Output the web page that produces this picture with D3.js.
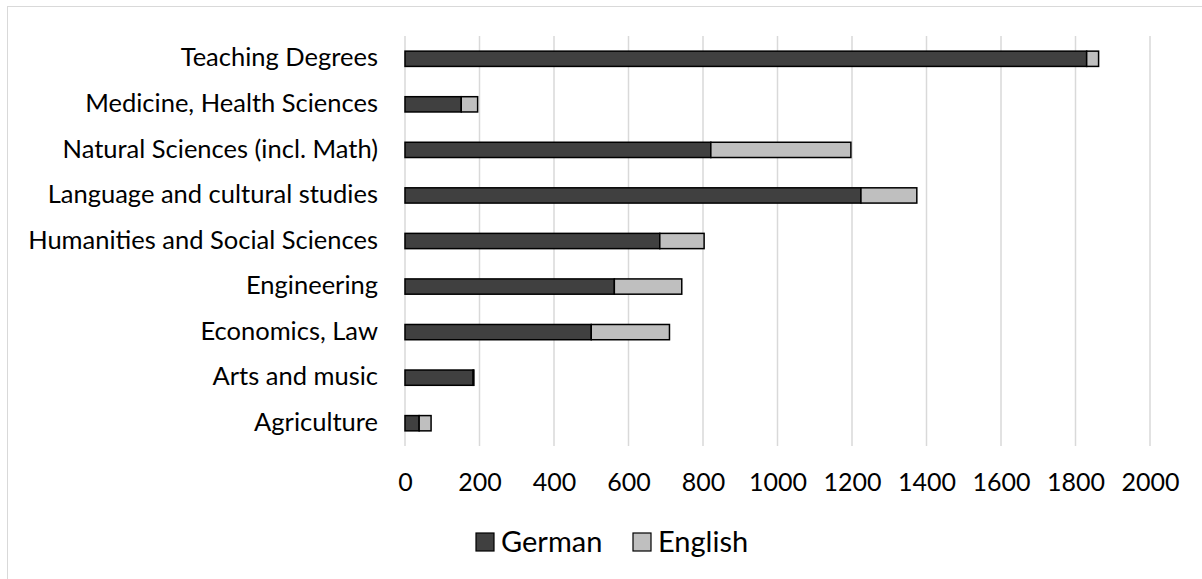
<!DOCTYPE html>
<html lang="en">
<head>
    <meta charset="UTF-8">
    <title>Degrees by language</title>
    <style>
        html, body { margin: 0; height: 100%; background: #fff; }
        svg text { font-family: Lato, "Open Sans", sans-serif; fill: #000; }
    </style>
</head>
<body>
    <div class="chart"></div>
    <script src="https://d3js.org/d3.v7.min.js"></script>
    <script>
        var categories = ["Teaching Degrees", "Medicine, Health Sciences", "Natural Sciences (incl. Math)",
            "Language and cultural studies", "Humanities and Social Sciences", "Engineering",
            "Economics, Law", "Arts and music", "Agriculture"];
        var german = [1830, 151, 821, 1224, 684, 562, 500, 183, 38];
        var english = [32, 44, 376, 150, 119, 181, 210, 2, 32];
        var seriesNames = ["German", "English"];
        var seriesColors = ["#404040", "#bfbfbf"];
        var xTicks = [0, 200, 400, 600, 800, 1000, 1200, 1400, 1600, 1800, 2000];

        var W = 1202, H = 579;
        var margin = { top: 36, left: 405, right: 52, bottom: 133 };
        var width = W - margin.left - margin.right,
            height = H - margin.top - margin.bottom;

        var svg = d3.select('.chart').append('svg')
            .attr('width', W).attr('height', H);

        // outer chart border
        svg.append('rect')
            .attr('x', 7.5).attr('y', 6.5)
            .attr('width', W).attr('height', H)
            .attr('fill', 'none').attr('stroke', '#d9d9d9');

        var g = svg.append('g').attr('transform', `translate(${margin.left},${margin.top})`);

        var x = d3.scaleLinear().domain([0, 2000]).range([0, width]);
        var y = d3.scaleBand().domain(categories).range([0, height]).paddingInner(0.665).paddingOuter(0.3325);

        // gridlines
        g.append('g').selectAll('line').data(xTicks).join('line')
            .attr('x1', d => x(d)).attr('x2', d => x(d))
            .attr('y1', 0).attr('y2', height)
            .attr('stroke', '#d9d9d9').attr('stroke-width', 1.5);

        // tick labels
        var xAxis = d3.axisBottom(x).tickValues(xTicks).tickFormat(d3.format('d')).tickSize(0).tickPadding(0);
        var ax = g.append('g').attr('transform', `translate(0,${height + 36})`).call(xAxis);
        ax.select('.domain').remove();
        ax.selectAll('text').attr('font-size', 25).attr('font-family', null).attr('dy', '0.35em').attr('y', 0);

        // category labels
        var yAxis = d3.axisLeft(y).tickSize(0).tickPadding(27);
        var ay = g.append('g').call(yAxis);
        ay.select('.domain').remove();
        ay.selectAll('text').attr('font-size', 25.5).attr('font-family', null).attr('dy', '0.3em');

        // stacked bars
        var rows = categories.map((c, i) => ({ cat: c, German: german[i], English: english[i] }));
        var stack = d3.stack().keys(seriesNames)(rows);

        g.selectAll('g.series').data(stack).join('g')
            .attr('class', 'series')
            .attr('fill', (d, i) => seriesColors[i])
            .selectAll('rect').data(d => d).join('rect')
            .attr('x', d => x(d[0]))
            .attr('y', d => y(d.data.cat))
            .attr('width', d => x(d[1]) - x(d[0]))
            .attr('height', y.bandwidth())
            .attr('stroke', '#000').attr('stroke-width', 1.5);

        // legend
        var legend = svg.append('g').attr('transform', 'translate(476,542)');
        var items = legend.selectAll('g').data(seriesNames).join('g')
            .attr('transform', (d, i) => `translate(${i * 157},0)`);
        items.append('rect')
            .attr('x', 0).attr('y', -9).attr('width', 18).attr('height', 18)
            .attr('fill', (d, i) => seriesColors[i])
            .attr('stroke', '#000').attr('stroke-width', 1.2);
        items.append('text')
            .attr('x', 25).attr('dy', '0.35em')
            .attr('font-size', 29)
            .text(d => d);
    </script>
</body>
</html>
